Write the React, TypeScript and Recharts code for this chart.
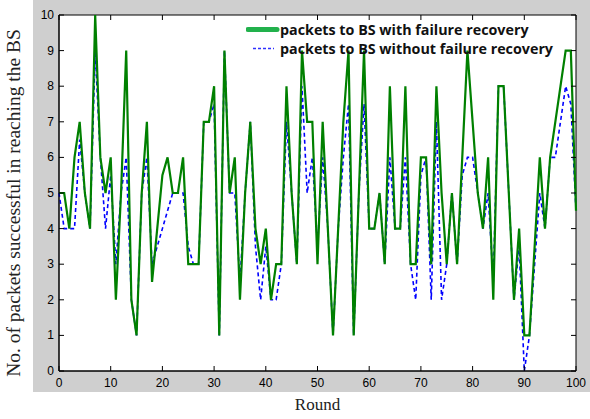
import React from "react";
import { LineChart, Line, XAxis, YAxis, ReferenceArea, Label } from "recharts";

// rounds 0..100 on the x axis
const rounds = Array.from({ length: 101 }, (_, i) => i);

const withRecovery = [
  5, 5, 4, 6, 7, 5, 4, 10, 6, 5,
  6, 2, 5, 9, 2, 1, 5, 7, 2.5, 4,
  5.5, 6, 5, 5, 6, 3, 3, 3, 7, 7,
  8, 1, 9, 5, 6, 2, 5, 7, 4, 3,
  4, 2, 3, 3, 8, 5, 3, 9, 7, 7,
  3, 7, 4, 1, 4, 7, 9, 1, 5, 9,
  4, 4, 5, 3, 8, 4, 4, 8, 3, 3,
  6, 6, 3, 8, 5, 3, 5, 3, 6, 9,
  7, 5, 4, 6, 2, 8, 8, 5, 2, 4,
  1, 1, 3.5, 6, 4, 6, 7, 8, 9, 9,
  4.5,
];

const withoutRecovery = [
  5, 4, 4, 4, 6.5, 5, 4, 9, 6, 4,
  5.5, 3, 5, 6, 2, 1, 5, 6, 3, 3.5,
  4, 4.5, 5, 5, 5, 3.5, 3, 3, 7, 7,
  7.5, 1, 9, 5, 5, 2.5, 5, 7, 3.5, 2,
  3.5, 2, 2, 3, 7, 5, 3, 8, 5, 6,
  3.5, 6, 4, 1, 4, 6, 7.5, 1, 5, 7.5,
  4, 4, 5, 3, 6, 4, 4, 6, 3, 2,
  5.5, 6, 2, 7, 2, 3, 5, 3, 5.5, 6,
  6, 5, 4, 5, 2.5, 8, 8, 5, 2, 3.5,
  0, 1, 3, 5, 4, 6, 6, 7, 8, 7.5,
  4.5,
];

const xTicks = [0, 10, 20, 30, 40, 50, 60, 70, 80, 90, 100];
const yTicks = [0, 1, 2, 3, 4, 5, 6, 7, 8, 9, 10];

const data = rounds.map((round, i) => ({
  round,
  withRecovery: withRecovery[i],
  withoutRecovery: withoutRecovery[i],
}));

const W = 590;
const H = 419;
const TOP = 15;
const RIGHT_GAP = 14;
const X_AXIS_H = 48;
const Y_AXIS_W = 59;
const PLOT_RIGHT = W - RIGHT_GAP;
const tickFont = "'Liberation Sans', Arial, sans-serif";
const serif = "'Liberation Serif', 'Times New Roman', serif";

function BottomTick(props: any) {
  const { x, y, payload } = props;
  return (
    <g>
      <line x1={x} y1={y} x2={x} y2={y - 5} stroke="#000" />
      <line x1={x} y1={TOP} x2={x} y2={TOP + 5} stroke="#000" />
      <text x={x} y={y + 16} textAnchor="middle" fontSize={12} fontFamily={tickFont} fill="#000">
        {payload.value}
      </text>
    </g>
  );
}

function LeftTick(props: any) {
  const { x, y, payload } = props;
  return (
    <g>
      <line x1={x} y1={y} x2={x + 5} y2={y} stroke="#000" />
      <line x1={PLOT_RIGHT} y1={y} x2={PLOT_RIGHT - 5} y2={y} stroke="#000" />
      <text x={x - 5} y={y + 4} textAnchor="end" fontSize={12} fontFamily={tickFont} fill="#000">
        {payload.value}
      </text>
    </g>
  );
}

export default function App() {
  return (
    <div style={{ position: "absolute", left: 0, top: 0, width: W, height: H, background: "#fff" }}>
      <div style={{ position: "absolute", left: 33, top: 0, width: W - 33, height: 392, background: "#cfcfcf" }} />
      <div style={{ position: "absolute", left: 0, top: 0 }}>
        <LineChart width={W} height={H} data={data} margin={{ top: TOP, right: RIGHT_GAP, bottom: 0, left: 0 }}>
          <ReferenceArea x1={0} x2={100} y1={0} y2={10} fill="#fff" fillOpacity={1} stroke="#000" strokeWidth={1} />
          <XAxis
            dataKey="round"
            type="number"
            domain={[0, 100]}
            ticks={xTicks}
            height={X_AXIS_H}
            tickSize={0}
            tickMargin={0}
            tick={<BottomTick />}
            axisLine={{ stroke: "#000" }}
            interval={0}
          >
            <Label
              content={({ viewBox }: any) => (
                <text
                  x={viewBox.x + viewBox.width / 2}
                  y={410}
                  textAnchor="middle"
                  fontSize={17}
                  fontFamily={serif}
                  fill="#222"
                >
                  Round
                </text>
              )}
            />
          </XAxis>
          <YAxis
            type="number"
            domain={[0, 10]}
            ticks={yTicks}
            width={Y_AXIS_W}
            tickSize={0}
            tickMargin={0}
            tick={<LeftTick />}
            axisLine={{ stroke: "#000" }}
            interval={0}
          >
            <Label
              content={({ viewBox }: any) => (
                <text
                  transform={`translate(20, ${viewBox.y + viewBox.height / 2 + 10}) rotate(-90)`}
                  textAnchor="middle"
                  fontSize={19.5}
                  fontFamily={serif}
                  fill="#222"
                >
                  No. of packets successful in reaching the BS
                </text>
              )}
            />
          </YAxis>
          <Line
            type="linear"
            dataKey="withoutRecovery"
            stroke="#0000ff"
            strokeWidth={1.6}
            strokeDasharray="4 3"
            dot={false}
            isAnimationActive={false}
          />
          <Line
            type="linear"
            dataKey="withRecovery"
            stroke="#008000"
            strokeWidth={2.2}
            dot={false}
            isAnimationActive={false}
          />
        </LineChart>
      </div>
      <div
        style={{
          position: "absolute",
          left: 246,
          top: 20,
          fontFamily: "'Open Sans', sans-serif",
          fontWeight: 700,
          fontSize: 14.3,
          color: "#111",
          lineHeight: "19px",
          pointerEvents: "none",
          whiteSpace: "nowrap",
        }}
      >
        <div style={{ display: "flex", alignItems: "center" }}>
          <svg width={34} height={19}>
            <line x1={2} y1={9.5} x2={31} y2={9.5} stroke="#22b14c" strokeWidth={5} strokeLinecap="round" />
          </svg>
          <span>packets to BS with failure recovery</span>
        </div>
        <div style={{ display: "flex", alignItems: "center" }}>
          <svg width={34} height={19}>
            <line x1={7} y1={9.5} x2={28} y2={9.5} stroke="#3030ff" strokeWidth={1.6} strokeDasharray="3 2" />
          </svg>
          <span>packets to BS without failure recovery</span>
        </div>
      </div>
    </div>
  );
}
